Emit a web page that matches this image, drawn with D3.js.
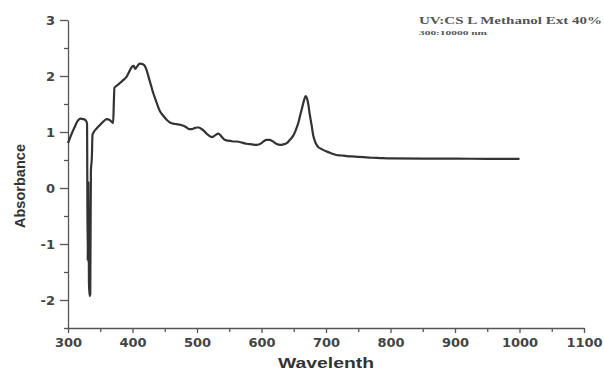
<!DOCTYPE html>
<html>
<head>
<meta charset="utf-8">
<script src="https://cdn.jsdelivr.net/npm/d3@7"></script>
<style>
  body { margin: 0; background: #fff; }
  .axis path, .axis line { stroke: #555; stroke-width: 1.3; }
  .axis text { font-family: "DejaVu Sans", sans-serif; font-weight: bold; font-size: 13px; fill: #444; }
</style>
</head>
<body>
<svg id="chart"></svg>
<script>
// wavelength (nm) and absorbance
const wavelength = [300,305,310,315,319,324,328,329.5,330.5,331.5,332.5,333.5,334.5,335.5,337,338,340,345,350,355,360,364,367,370,371,372,376,381,386,391,396,399.7,402,404,406,409,412,416,419,422,425,427,430,432,435,437.5,440,442.6,447,453,458,463,468,474,479,484,488,492,496,500,503,506,510,515,519,523,528,533,538,542,546,552,557,562,570,577,585,592,600,604,608,612,618,623,629,634,639,644,649,653,657,660,664,666,668.5,670.5,672.6,675,678,680,683,686,688,694,701,708,716,724,732,745,758,770,784,800,850,900,950,1000];
const absorbance = [0.80,0.95,1.08,1.20,1.24,1.23,1.20,1.15,-1.30,0.10,-1.70,-1.93,-1.90,0.30,0.55,0.95,1.00,1.07,1.13,1.19,1.23,1.22,1.19,1.16,1.50,1.79,1.83,1.88,1.93,1.99,2.10,2.17,2.18,2.13,2.15,2.20,2.22,2.21,2.18,2.10,1.98,1.90,1.78,1.70,1.60,1.52,1.44,1.37,1.30,1.22,1.17,1.15,1.14,1.13,1.11,1.08,1.05,1.05,1.07,1.08,1.08,1.06,1.03,0.97,0.93,0.91,0.94,0.97,0.92,0.87,0.85,0.84,0.83,0.83,0.81,0.79,0.78,0.77,0.80,0.84,0.86,0.86,0.83,0.79,0.77,0.78,0.80,0.86,0.93,1.03,1.16,1.30,1.48,1.57,1.64,1.60,1.49,1.30,1.10,0.95,0.83,0.76,0.73,0.69,0.65,0.62,0.59,0.58,0.57,0.56,0.55,0.54,0.535,0.53,0.525,0.525,0.52,0.52];

const xTicks = [300,400,500,600,700,800,900,1000,1100];
const yTicks = [-2,-1,0,1,2,3];
const xDomain = [300, 1100];
const yDomain = [-2.5, 3];
const titleText = "UV:CS L Methanol Ext 40%";
const subtitleText = "300:10000 nm";

class spectrumChart {
  constructor(_config, _data) {
    this.config = {
      parentElement: _config.parentElement,
      containerWidth: _config.containerWidth || 604,
      containerHeight: _config.containerHeight || 372,
      margin: {top: 20, right: 20, bottom: 44, left: 68}
    };
    this.data = _data;
    this.initVis();
  }

  initVis() {
    let vis = this;
    vis.width = vis.config.containerWidth - vis.config.margin.left - vis.config.margin.right;
    vis.height = vis.config.containerHeight - vis.config.margin.top - vis.config.margin.bottom;

    vis.xScale = d3.scaleLinear().domain(xDomain).range([0, vis.width]);
    vis.yScale = d3.scaleLinear().domain(yDomain).range([vis.height, 0]);

    vis.svg = d3.select(vis.config.parentElement)
      .attr('width', vis.config.containerWidth)
      .attr('height', vis.config.containerHeight);

    vis.chart = vis.svg.append('g')
      .attr('transform', `translate(${vis.config.margin.left},${vis.config.margin.top})`);

    // minor ticks first, majors drawn over them
    vis.chart.append('g')
      .attr('class', 'axis')
      .attr('transform', `translate(0,${vis.height})`)
      .call(d3.axisBottom(vis.xScale).tickValues(d3.range(350, 1100, 100)).tickSize(4).tickFormat(''))
      .select('.domain').remove();
    vis.chart.append('g')
      .attr('class', 'axis')
      .call(d3.axisLeft(vis.yScale).tickValues(d3.range(-2.5, 3, 1)).tickSize(4).tickFormat(''))
      .select('.domain').remove();

    vis.xAxisG = vis.chart.append('g')
      .attr('class', 'axis x-axis')
      .attr('transform', `translate(0,${vis.height})`)
      .call(d3.axisBottom(vis.xScale).tickValues(xTicks).tickSize(5).tickSizeOuter(0).tickPadding(5)
        .tickFormat(d => String(d)));

    vis.yAxisG = vis.chart.append('g')
      .attr('class', 'axis y-axis')
      .call(d3.axisLeft(vis.yScale).tickValues(yTicks).tickSize(8).tickSizeOuter(0).tickPadding(5)
        .tickFormat(d => String(d)));

    // axis titles
    vis.svg.append('text')
      .attr('transform', 'translate(25,186) rotate(-90)')
      .attr('text-anchor', 'middle')
      .attr('textLength', 84).attr('lengthAdjust', 'spacingAndGlyphs')
      .style('font-family', '"Liberation Sans", Arial, sans-serif')
      .style('font-weight', 'bold').style('font-size', '15px').style('fill', '#333')
      .text('Absorbance');

    vis.svg.append('text')
      .attr('x', vis.config.margin.left + vis.xScale(700)).attr('y', 368)
      .attr('text-anchor', 'middle')
      .attr('textLength', 96).attr('lengthAdjust', 'spacingAndGlyphs')
      .style('font-family', '"Liberation Sans", Arial, sans-serif')
      .style('font-weight', 'bold').style('font-size', '14px').style('fill', '#333')
      .text('Wavelenth');

    // corner label
    vis.svg.append('text')
      .attr('x', 419).attr('y', 24)
      .attr('textLength', 183).attr('lengthAdjust', 'spacingAndGlyphs')
      .style('font-family', '"Liberation Serif", "Times New Roman", serif')
      .style('font-weight', 'bold').style('font-size', '11px').style('fill', '#555')
      .text(titleText);
    vis.svg.append('text')
      .attr('x', 419).attr('y', 35)
      .attr('textLength', 68).attr('lengthAdjust', 'spacingAndGlyphs')
      .style('font-family', '"Liberation Serif", "Times New Roman", serif')
      .style('font-weight', 'bold').style('font-size', '7px').style('fill', '#555')
      .text(subtitleText);

    vis.updateVis();
  }

  updateVis() {
    let vis = this;
    vis.line = d3.line()
      .x(d => vis.xScale(d.w))
      .y(d => vis.yScale(d.a))
      .curve(d3.curveMonotoneX);
    vis.renderVis();
  }

  renderVis() {
    let vis = this;
    vis.chart.append('path')
      .datum(vis.data)
      .attr('fill', 'none')
      .attr('stroke', '#333')
      .attr('stroke-width', 2.2)
      .attr('stroke-linejoin', 'round')
      .attr('d', vis.line);
  }
}

const data = wavelength.map((w, i) => ({w: w, a: absorbance[i]}));
new spectrumChart({parentElement: '#chart'}, data);
</script>
</body>
</html>
